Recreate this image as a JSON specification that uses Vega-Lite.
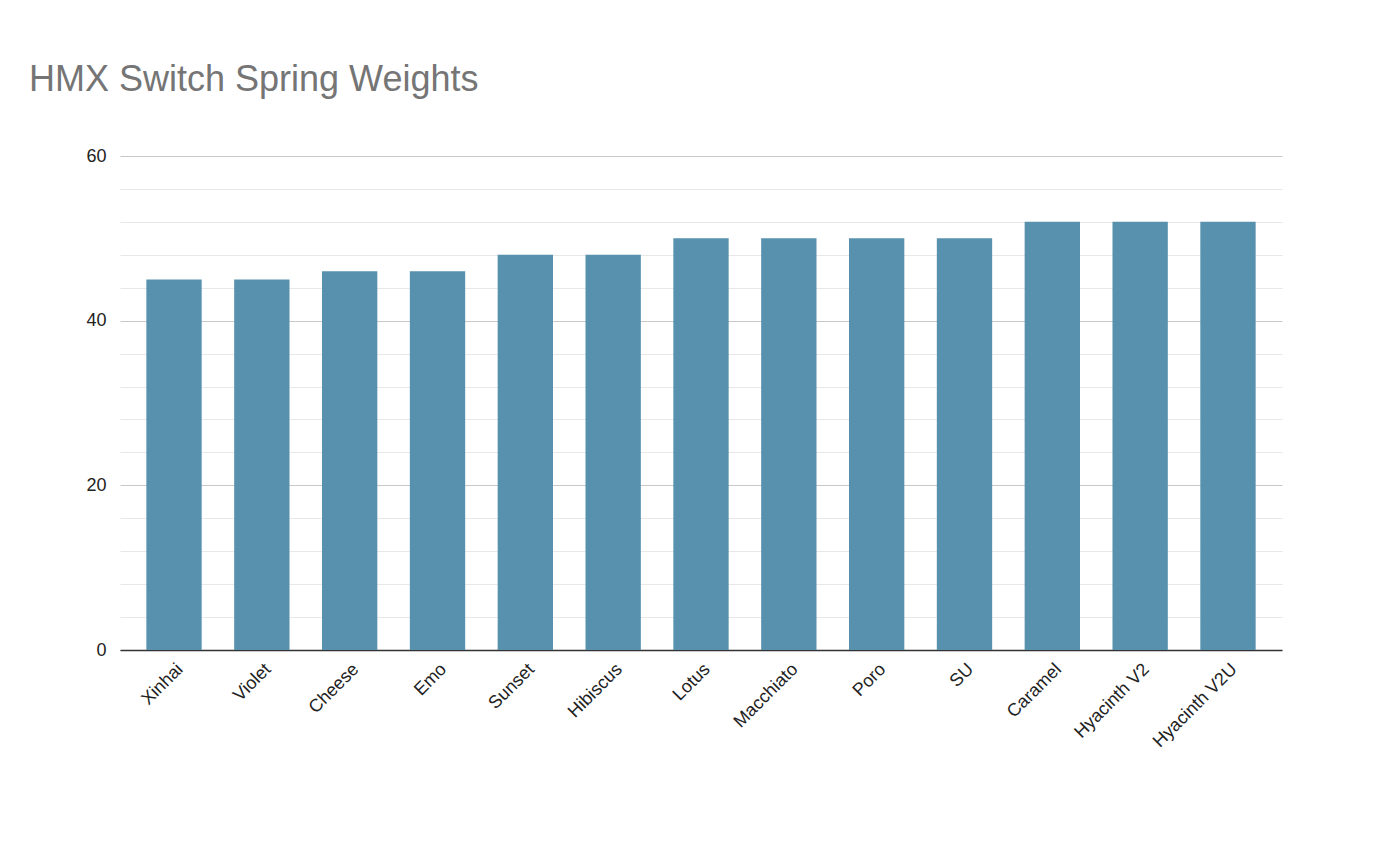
{
  "$schema": "https://vega.github.io/schema/vega-lite/v6.json",
  "width": 1162,
  "height": 494,
  "autosize": {"type": "none"},
  "padding": {"left": 120, "top": 156, "right": 118, "bottom": 196},
  "background": "white",
  "title": {"text": "HMX Switch Spring Weights", "anchor": "start", "dx": -57, "offset": 48, "fontSize": 36, "font": "Liberation Sans", "fontWeight": "normal", "color": "#757575"},
  "config": {"view": {"stroke": null}},
  "data": {"values": [
    {"name": "Xinhai", "weight": 45},
    {"name": "Violet", "weight": 45},
    {"name": "Cheese", "weight": 46},
    {"name": "Emo", "weight": 46},
    {"name": "Sunset", "weight": 48},
    {"name": "Hibiscus", "weight": 48},
    {"name": "Lotus", "weight": 50},
    {"name": "Macchiato", "weight": 50},
    {"name": "Poro", "weight": 50},
    {"name": "SU", "weight": 50},
    {"name": "Caramel", "weight": 52},
    {"name": "Hyacinth V2", "weight": 52},
    {"name": "Hyacinth V2U", "weight": 52}
  ]},
  "mark": {"type": "bar", "color": "#5891AD"},
  "encoding": {
    "x": {"field": "name", "type": "nominal", "sort": null, "title": null,
      "scale": {"paddingInner": 0.37, "paddingOuter": 0.3},
      "axis": {"labelAngle": -45, "labelFontSize": 18, "labelFont": "Liberation Sans", "labelColor": "#222", "ticks": false, "domainColor": "#333", "domainWidth": 1.5, "labelPadding": 10}},
    "y": {"field": "weight", "type": "quantitative", "title": null,
      "scale": {"domain": [0, 60], "nice": false},
      "axis": {"values": [0,4,8,12,16,20,24,28,32,36,40,44,48,52,56,60],
        "labelExpr": "datum.value % 20 === 0 ? datum.label : ''",
        "labelFontSize": 18, "labelFont": "Liberation Sans", "labelColor": "#222",
        "ticks": false, "domain": false, "labelPadding": 14,
        "gridColor": {"condition": {"test": "datum.value % 20 === 0", "value": "#c8c8c8"}, "value": "#e8e8e8"},
        "gridWidth": 1.2}}
  }
}
